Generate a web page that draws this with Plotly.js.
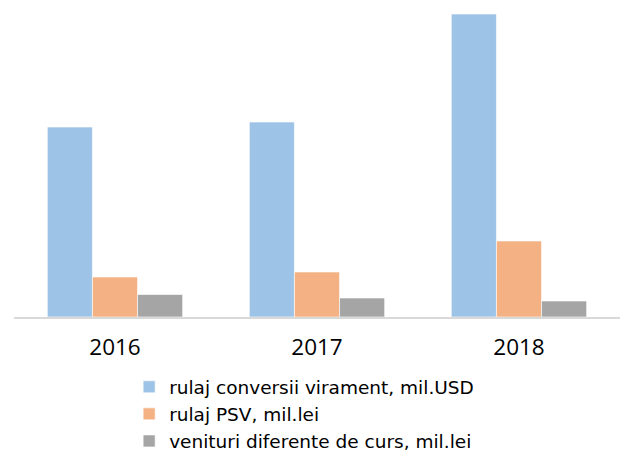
<!DOCTYPE html>
<html><head><meta charset="utf-8">
<script src="https://cdn.plot.ly/plotly-3.0.1.min.js"></script>
<style>body{margin:0;padding:0;background:#fff}</style>
</head><body>
<div id="chart" style="width:621px;height:453px"></div>
<script>
const years = ['2016', '2017', '2018'];
const seriesNames = ['rulaj conversii virament, mil.USD', 'rulaj PSV, mil.lei', 'venituri diferente de curs, mil.lei'];
const conversii = [190, 195, 303];
const psv = [40, 45, 76];
const venituri = [22.5, 19, 16];
const colors = ['#9DC3E6', '#F4B183', '#A5A5A5'];

const values = [conversii, psv, venituri];
const data = values.map((v, i) => ({
  type: 'bar', x: years, y: v, name: seriesNames[i], legendgroup: 'g' + i,
  marker: {color: colors[i], line: {color: 'rgba(255,255,255,0.6)', width: 1}},
  hoverinfo: 'skip'
}));

const layout = {
  width: 621, height: 453,
  margin: {l: 14, r: 1, t: 10, b: 136},
  paper_bgcolor: '#fff', plot_bgcolor: '#fff',
  barmode: 'group', bargap: 0.33, bargroupgap: 0,
  font: {family: 'Open Sans, sans-serif', color: '#000'},
  xaxis: {
    type: 'category', showgrid: false, zeroline: false,
    showline: true, linecolor: '#D9D9D9', linewidth: 1.5,
    ticks: '', ticklabelstandoff: 9, automargin: false,
    tickfont: {size: 22.5, family: 'Open Sans, sans-serif', color: '#000'}
  },
  yaxis: {range: [0, 307], visible: false, showgrid: false, zeroline: false},
  showlegend: true,
  legend: {
    orientation: 'v', x: 0.19, xanchor: 'left',
    yref: 'container', y: 0.187, yanchor: 'top',
    font: {size: 18.5, family: 'DejaVu Sans, sans-serif', color: '#000'},
    traceorder: 'normal', tracegroupgap: 3.5, bgcolor: 'rgba(0,0,0,0)'
  }
};
Plotly.newPlot('chart', data, layout, {staticPlot: true, displayModeBar: false});
</script>
</body></html>
